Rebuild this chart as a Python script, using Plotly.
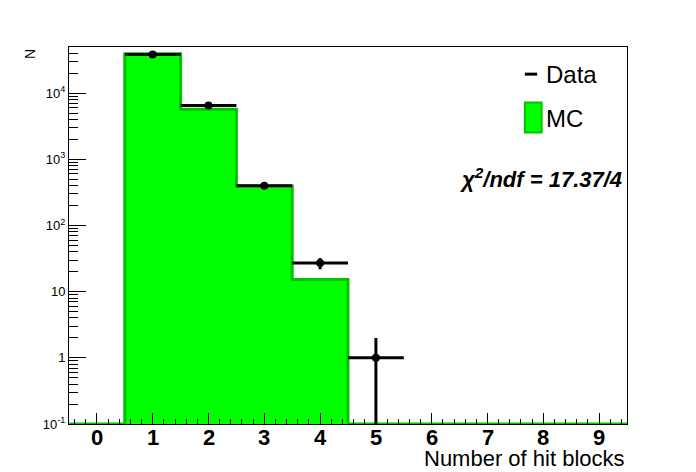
import numpy as np
import plotly.graph_objects as go

# bin centres and contents
bin_centers = [0, 1, 2, 3, 4, 5, 6, 7, 8, 9]
data_counts = [0, 38500, 6520, 399, 27, 1, 0, 0, 0, 0]
mc_counts = [0, 39500, 5730, 395, 15.2, 0, 0, 0, 0, 0]
chi2_text = "17.37/4"

y_min = 0.1

# MC histogram drawn as a filled step outline (empty bins sit on the axis floor, like ROOT)
edges = [c - 0.5 for c in bin_centers] + [bin_centers[-1] + 0.5]
mc_step = [max(v, y_min) for v in mc_counts] + [max(mc_counts[-1], y_min)]

fig = go.Figure()
fig.add_trace(go.Scatter(x=edges, y=mc_step, mode="lines", line_shape="hv",
                         line=dict(color="#00c400", width=3),
                         fill="toself", fillcolor="#00ff00",
                         showlegend=False, hoverinfo="skip"))

# data points with poisson errors, only non-empty bins
dx = [c for c, n in zip(bin_centers, data_counts) if n > 0]
dy = [n for n in data_counts if n > 0]
derr = [np.sqrt(n) for n in dy]
fig.add_trace(go.Scatter(x=dx, y=dy, mode="markers",
                         marker=dict(color="black", size=8),
                         error_x=dict(type="constant", value=0.5, color="black", thickness=3, width=0),
                         error_y=dict(type="data", array=derr, color="black", thickness=3, width=0),
                         showlegend=False))

ytickvals = [0.1, 1, 10, 100, 1000, 10000]
yticktext = ["10<sup>-1</sup>", "1", "10", "10<sup>2</sup>", "10<sup>3</sup>", "10<sup>4</sup>"]
yminor = [m * 10.0 ** e for e in range(-1, 5) for m in range(2, 10)]

fig.update_layout(
    width=696, height=472,
    margin=dict(l=69, r=69, t=47, b=48),
    plot_bgcolor="white", paper_bgcolor="white",
    font=dict(family="Liberation Sans, Arial, sans-serif", color="black"),
    xaxis=dict(range=[-0.5, 9.5], showgrid=False, zeroline=False,
               showline=True, linecolor="black", linewidth=1, mirror=True,
               ticks="inside", ticklen=11, tickwidth=1, tickcolor="black",
               tickmode="array", tickvals=bin_centers, showticklabels=False,
               minor=dict(ticks="inside", ticklen=5, tickcolor="black", dtick=0.2, showgrid=False)),
    yaxis=dict(type="log", range=[np.log10(y_min), 4.697], showgrid=False, zeroline=False,
               showline=True, linecolor="black", linewidth=1, mirror=True,
               ticks="inside", ticklen=17, tickwidth=1, tickcolor="black",
               tickmode="array", tickvals=ytickvals, ticktext=yticktext,
               tickfont=dict(size=13, color="black"),
               minor=dict(ticks="inside", ticklen=9, tickcolor="black",
                          tickmode="array", tickvals=yminor, showgrid=False)),
)

# x tick labels sit tight under the axis as in ROOT
for c in bin_centers:
    fig.add_annotation(text="<b>%d</b>" % c, xref="x", yref="paper", x=c, y=-0.036,
                       xanchor="center", yanchor="middle", showarrow=False,
                       font=dict(size=22))

# axis titles placed ROOT style
fig.add_annotation(text="Number of hit blocks", xref="paper", yref="paper",
                   x=1.0, y=-0.092, xanchor="right", yanchor="middle",
                   showarrow=False, font=dict(size=22))
fig.add_annotation(text="N", xref="paper", yref="paper", textangle=-90,
                   x=-0.07, y=1.0, xanchor="center", yanchor="top",
                   showarrow=False, font=dict(size=14))

# legend
fig.add_shape(type="line", xref="paper", yref="paper", x0=0.817, x1=0.839, y0=0.928, y1=0.928,
              line=dict(color="black", width=3))
fig.add_annotation(text="Data", xref="paper", yref="paper", x=0.852, y=0.928,
                   xanchor="left", yanchor="middle", showarrow=False, font=dict(size=24))
fig.add_shape(type="rect", xref="paper", yref="paper", x0=0.817, x1=0.847, y0=0.773, y1=0.853,
              fillcolor="#00ff00", line=dict(color="#00c400", width=2))
fig.add_annotation(text="MC", xref="paper", yref="paper", x=0.852, y=0.810,
                   xanchor="left", yanchor="middle", showarrow=False, font=dict(size=24))

fig.add_annotation(text="<b><i>\u03c7<sup>2</sup>/ndf = " + chi2_text + "</i></b>",
                   xref="paper", yref="paper", x=0.994, y=0.652,
                   xanchor="right", yanchor="middle", showarrow=False, font=dict(size=22))

# page has a default body margin; drop it so the figure sits at the window corner
fig.write_html("out.html", config={"displayModeBar": False},
               post_script="document.body.style.margin='0';")
